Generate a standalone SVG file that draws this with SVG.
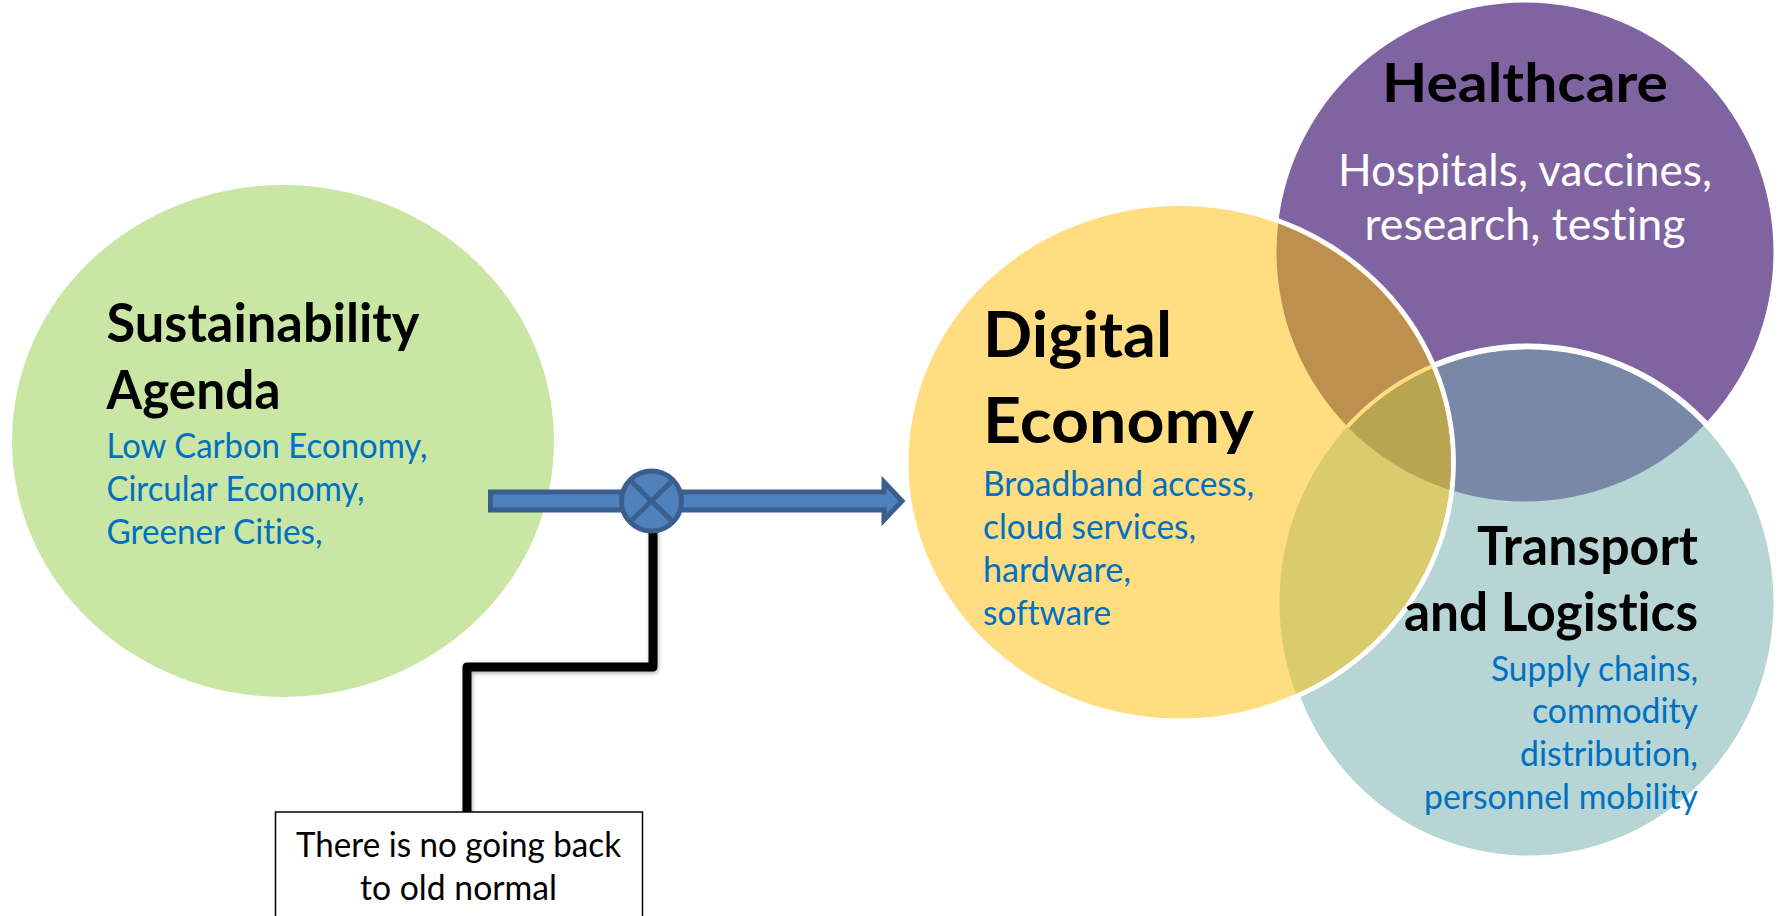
<svg xmlns="http://www.w3.org/2000/svg" width="1783" height="916" viewBox="0 0 1783 916">
<style>
text{font-family:"Lato","Liberation Sans",sans-serif;font-variant-ligatures:none}
.h{font-weight:700;fill:#000}
.b{font-size:35px;fill:#0070C0}
.k{font-size:35px;fill:#000}
.w{font-size:44px;fill:#fff}
.arrow{fill:#4F81BD;stroke:#3A5F8F;stroke-width:5}
</style>
<defs>
<clipPath id="cPurple"><ellipse cx="1525" cy="252" rx="248.500" ry="249.500"/></clipPath>
<clipPath id="cYellowIn"><ellipse cx="1179.700" cy="462.300" rx="271.200" ry="256.300"/></clipPath>
<filter id="sh" x="-10%" y="-10%" width="120%" height="120%"><feDropShadow dx="1" dy="2" stdDeviation="2" flood-color="#000" flood-opacity=".3"/></filter>
</defs>
<rect width="1783" height="916" fill="#fff"/>
<g id="node-sustainability">
<ellipse cx="283" cy="441" rx="271" ry="256" fill="#C9E6A5"/>
<text class="h" x="106.500" y="342" font-size="54" textLength="313" lengthAdjust="spacingAndGlyphs">Sustainability</text>
<text class="h" x="106.500" y="409" font-size="54" textLength="174" lengthAdjust="spacingAndGlyphs">Agenda</text>
<text class="b" x="106.500" y="458" textLength="321" lengthAdjust="spacingAndGlyphs">Low Carbon Economy,</text>
<text class="b" x="106.500" y="501" textLength="258" lengthAdjust="spacingAndGlyphs">Circular Economy,</text>
<text class="b" x="106.500" y="544" textLength="216" lengthAdjust="spacingAndGlyphs">Greener Cities,</text>
</g>
<g id="node-healthcare">
<ellipse cx="1525" cy="252" rx="248.500" ry="249.500" fill="#8064A2"/>
<text class="h" x="1525" y="102" font-size="54" text-anchor="middle" textLength="286" lengthAdjust="spacingAndGlyphs">Healthcare</text>
<text class="w" x="1525" y="186" text-anchor="middle" textLength="374" lengthAdjust="spacingAndGlyphs">Hospitals, vaccines,</text>
<text class="w" x="1525" y="240" text-anchor="middle" textLength="321" lengthAdjust="spacingAndGlyphs">research, testing</text>
</g>
<g id="node-transport">
<ellipse cx="1528" cy="602.500" rx="248.500" ry="256" fill="#B7D5D5" stroke="#fff" stroke-width="6"/>
<g clip-path="url(#cPurple)"><ellipse cx="1528" cy="602.500" rx="245.500" ry="253" fill="#7A88A8"/></g>
</g>
<g id="node-digital">
<ellipse cx="1179.700" cy="462.300" rx="273.700" ry="258.800" fill="#FFDD80" stroke="#fff" stroke-width="5"/>
<g clip-path="url(#cYellowIn)">
<ellipse cx="1525" cy="252" rx="248.500" ry="249.500" fill="#BD9050"/>
<ellipse cx="1528" cy="602.500" rx="248.500" ry="256" fill="#DACB6C"/>
<g clip-path="url(#cPurple)">
<ellipse cx="1528" cy="602.500" rx="248.500" ry="256" fill="#B9A452"/>
<ellipse cx="1528" cy="602.500" rx="248.500" ry="256" fill="none" stroke="#FFDD80" stroke-width="4"/>
</g>
</g>
<text class="h" x="983" y="357" font-size="63" textLength="189" lengthAdjust="spacingAndGlyphs">Digital</text>
<text class="h" x="983" y="443" font-size="63" textLength="271" lengthAdjust="spacingAndGlyphs">Economy</text>
<text class="b" x="983" y="496" textLength="271" lengthAdjust="spacingAndGlyphs">Broadband access,</text>
<text class="b" x="983" y="539" textLength="213" lengthAdjust="spacingAndGlyphs">cloud services,</text>
<text class="b" x="983" y="582" textLength="148" lengthAdjust="spacingAndGlyphs">hardware,</text>
<text class="b" x="983" y="625" textLength="128" lengthAdjust="spacingAndGlyphs">software</text>
</g>
<g id="node-transport-label" text-anchor="end">
<text class="h" x="1698" y="565" font-size="54" textLength="221" lengthAdjust="spacingAndGlyphs">Transport</text>
<text class="h" x="1698" y="631" font-size="54" textLength="294" lengthAdjust="spacingAndGlyphs">and Logistics</text>
<text class="b" x="1698" y="681" textLength="207" lengthAdjust="spacingAndGlyphs">Supply chains,</text>
<text class="b" x="1698" y="723" textLength="166" lengthAdjust="spacingAndGlyphs">commodity</text>
<text class="b" x="1698" y="766" textLength="178" lengthAdjust="spacingAndGlyphs">distribution,</text>
<text class="b" x="1698" y="809" textLength="274" lengthAdjust="spacingAndGlyphs">personnel mobility</text>
</g>
<g id="connectors">
<path d="M653 530V667H467V814" fill="none" stroke="#000" stroke-width="9" stroke-linejoin="round" filter="url(#sh)"/>
<polygon class="arrow" points="490.500,492 884,492 884,482 902,501 884,520 884,510 490.500,510"/>
</g>
<g id="node-junction">
<circle class="arrow" cx="651.500" cy="501" r="30"/>
<path class="arrow" fill="none" d="M630 480L673 522M673 480L630 522"/>
</g>
<g id="node-note">
<rect x="275.500" y="812" width="367" height="120" fill="#fff" stroke="#000" stroke-width="1.500"/>
<text class="k" x="458.500" y="857" text-anchor="middle" textLength="325" lengthAdjust="spacingAndGlyphs">There is no going back</text>
<text class="k" x="458.500" y="900" text-anchor="middle" textLength="197" lengthAdjust="spacingAndGlyphs">to old normal</text>
</g>
</svg>
